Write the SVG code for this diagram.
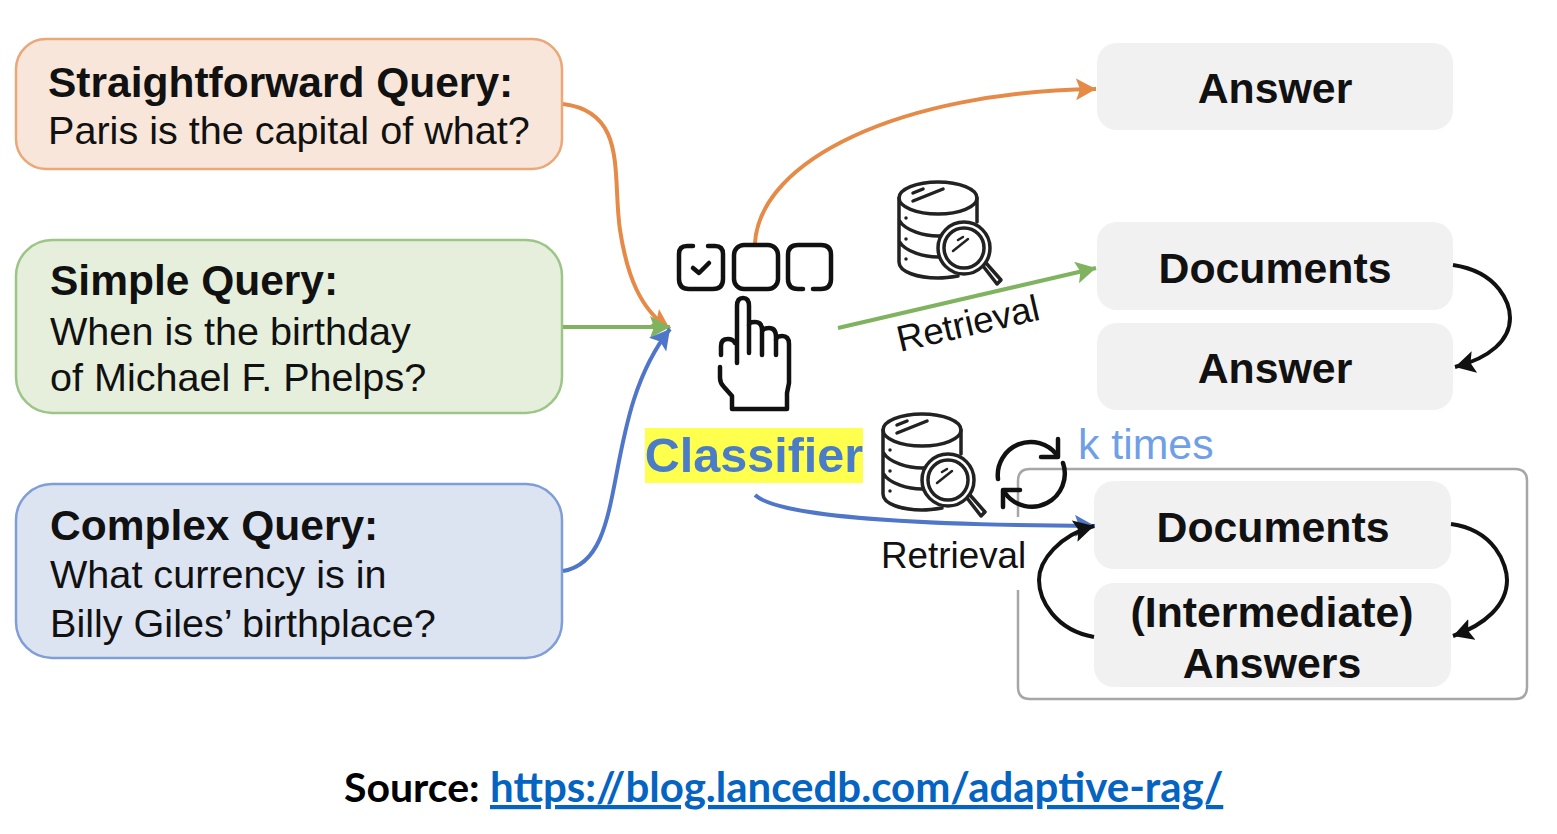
<svg xmlns="http://www.w3.org/2000/svg" width="1557" height="834" viewBox="0 0 1557 834">
<style>
text{font-family:"Liberation Sans",Arial,sans-serif;fill:#111}
.b{font-weight:700;font-size:42.5px}
.q{font-size:39.6px}
.o{font-size:42.8px;font-weight:700;text-anchor:middle}
.box{stroke-width:2.5}
.res{fill:#f1f1f1}
.c{fill:none;stroke-width:4}
.ic{fill:none;stroke:#111;stroke-width:4.5;stroke-linecap:round;stroke-linejoin:round}
.ic2{fill:none;stroke:#222;stroke-width:3.5;stroke-linecap:round;stroke-linejoin:round}
</style>
<defs>
<marker id="mo" markerUnits="userSpaceOnUse" markerWidth="22" markerHeight="24" refX="20" refY="11" orient="auto"><path d="M0 0L20 11L0 22L4 11Z" fill="#e58a47"/></marker>
<marker id="mg" markerUnits="userSpaceOnUse" markerWidth="22" markerHeight="24" refX="20" refY="11" orient="auto"><path d="M0 0L20 11L0 22L4 11Z" fill="#7fb35f"/></marker>
<marker id="mb" markerUnits="userSpaceOnUse" markerWidth="22" markerHeight="24" refX="20" refY="11" orient="auto"><path d="M0 0L20 11L0 22L4 11Z" fill="#4f76c8"/></marker>
<marker id="mk" markerUnits="userSpaceOnUse" markerWidth="22" markerHeight="24" refX="20" refY="11" orient="auto"><path d="M0 0L20 11L0 22L4 11Z" fill="#111"/></marker>
<g id="db">
<ellipse cx="938" cy="198" rx="39" ry="16" class="ic2"/>
<path class="ic2" d="M899 198V262C899 272 918 278 938 278C945 278 952 277 958 276M977 198V222M899 220C905 231 925 236 938 236C944 236 950 235 955 234M899 241C905 252 925 257 938 257L940 257"/>
<path class="ic2" d="M913 201L943 189M913 193L923 189"/>
<path class="ic2" stroke-width="5" d="M983 266L997 284L1001 280L986 263"/>
<circle cx="964" cy="248" r="26" class="ic2" fill="#fff" style="fill:#fff"/><circle cx="964" cy="248" r="20" class="ic2"/>
<path class="ic2" style="stroke-width:2.5" d="M953 251L968 239M958 240L963 237"/>
<path d="M906 218v.1M906 239v.1M906 259v.1" class="ic2"/>
</g>
</defs>

<g id="frame"><path d="M1018 517V481Q1018 469 1030 469H1515Q1527 469 1527 481V687Q1527 699 1515 699H1030Q1018 699 1018 687V590" fill="none" stroke="#a6a6a6" stroke-width="2.5"/></g>

<g id="q1"><rect class="box" x="16" y="39" width="546" height="130" rx="30" fill="#f8e6da" stroke="#eba778"/>
<text class="b" x="48" y="97">Straightforward Query:</text><text class="q" x="48" y="144">Paris is the capital of what?</text></g>
<g id="q2"><rect class="box" x="16" y="240" width="546" height="173" rx="36" fill="#e5efdc" stroke="#9cc587"/>
<text class="b" x="50" y="295">Simple Query:</text><text class="q" x="50" y="345">When is the birthday</text><text class="q" x="50" y="391">of Michael F. Phelps?</text></g>
<g id="q3"><rect class="box" x="16" y="484" width="546" height="174" rx="36" fill="#dde4f1" stroke="#7f9ed8"/>
<text class="b" x="50" y="540">Complex Query:</text><text class="q" x="50" y="588">What currency is in</text><text class="q" x="50" y="637">Billy Giles’ birthplace?</text></g>

<g id="r1"><rect class="res" x="1097" y="43" width="356" height="87" rx="20"/><text class="o" x="1275" y="103">Answer</text></g>
<g id="r2"><rect class="res" x="1097" y="222" width="356" height="88" rx="20"/><text class="o" x="1275" y="283">Documents</text></g>
<g id="r3"><rect class="res" x="1097" y="323" width="356" height="87" rx="20"/><text class="o" x="1275" y="383">Answer</text></g>
<g id="r4"><rect class="res" x="1094" y="481" width="357" height="88" rx="20"/><text class="o" x="1273" y="542">Documents</text></g>
<g id="r5"><rect class="res" x="1094" y="583" width="357" height="104" rx="20"/><text class="o" x="1272" y="627">(Intermediate)</text><text class="o" x="1272" y="678">Answers</text></g>

<g id="connectors">
<path class="c" stroke="#e58a47" d="M563 104C628 112 612 175 620 230C627 275 640 310 670 329" marker-end="url(#mo)"/>
<path class="c" stroke="#7fb35f" d="M563 327H670" marker-end="url(#mg)"/>
<path class="c" stroke="#4f76c8" d="M563 571C632 560 598 420 670 329" marker-end="url(#mb)"/>
<path class="c" stroke="#e58a47" d="M755 243C760 160 900 92 1096 89" marker-end="url(#mo)"/>
<path class="c" stroke="#7fb35f" d="M838 328L1096 268" marker-end="url(#mg)"/>
<path class="c" stroke="#4f76c8" d="M755 495C780 518 920 525 1095 526" marker-end="url(#mb)"/>
<path class="c" stroke="#111" d="M1453 265C1500 272 1510 305 1510 318C1510 340 1490 358 1455 367" marker-end="url(#mk)"/>
<path class="c" stroke="#111" d="M1451 524C1495 530 1507 565 1507 580C1507 605 1485 625 1453 636" marker-end="url(#mk)"/>
<path class="c" stroke="#111" d="M1094 637C1055 630 1039 600 1039 580C1039 560 1060 535 1094 526" marker-end="url(#mk)"/>
</g>

<g id="classifier">
<rect x="645" y="428" width="218" height="55" fill="#ffff4d"/>
<text x="754" y="472" text-anchor="middle" style="fill:#4a7cc7;font-size:48.5px;font-weight:700">Classifier</text>
<g class="ic">
<path d="M693 246H687Q679 246 679 254V279Q679 289 689 289H713Q723 289 723 279V254Q723 246 715 246H708"/>
<path d="M693 268L699 273L709 263"/>
<rect x="734" y="245" width="44" height="44" rx="10"/>
<path d="M803 289H798Q788 289 788 279V255Q788 245 798 245H821Q831 245 831 255V279Q831 289 821 289H813"/>
<path d="M720 367V378Q720 383 724 387L732 396V409H787V393L789 383V344Q789 336 782 336Q776 336 776 340"/>
<path d="M776 355V337Q776 328 769 328Q763 328 762 332M762 355V330Q762 322 755 322Q749 322 749 325"/>
<path d="M749 353V306Q749 298 743 298Q737 298 737 306V363"/>
<path d="M721 355V346Q721 339 728 339Q733 339 735 343"/>
</g>
</g>

<g id="db1"><use href="#db"/></g>
<g id="db2"><use href="#db" x="-16" y="232"/></g>

<g id="loop" class="ic">
<path d="M998 479A33 33 0 0 1 1057 455"/><path d="M1058 439V457H1041"/>
<path d="M1063 463A33 33 0 0 1 1005 493"/><path d="M1003 507V490H1020"/>
</g>

<text x="1078" y="459" style="fill:#6fa0e6;font-size:42.8px">k times</text>
<text x="881" y="568" style="font-size:36.8px">Retrieval</text>
<text transform="translate(900 352) rotate(-13)" style="font-size:36.8px">Retrieval</text>

<g id="source"><text x="344" y="802" style="font-family:Lato,'Noto Sans',sans-serif;font-size:41px;font-weight:700;fill:#000">Source:</text><text x="490" y="802" style="font-family:Lato,'Noto Sans',sans-serif;font-size:42px;font-weight:700;fill:#0563c1;text-decoration:underline">https://blog.lancedb.com/adaptive-rag/</text></g>
</svg>
